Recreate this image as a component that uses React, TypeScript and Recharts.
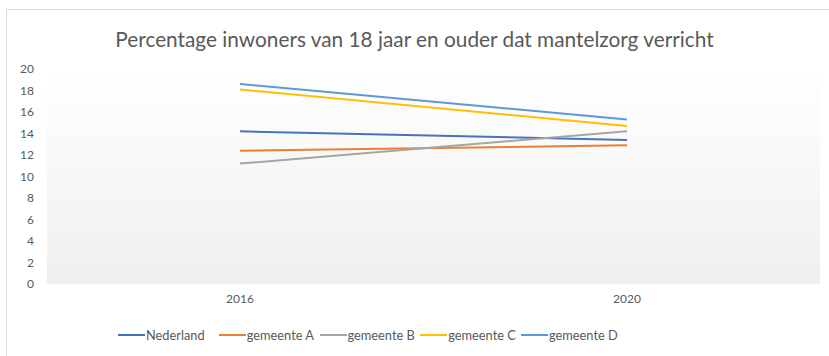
import React from 'react';
import { LineChart, Line, XAxis, YAxis, CartesianGrid, Legend } from 'recharts';

const years = ['2016', '2020'];
const nederland = [14.2, 13.4];
const gemeenteA = [12.4, 12.9];
const gemeenteB = [11.2, 14.2];
const gemeenteC = [18.1, 14.7];
const gemeenteD = [18.6, 15.3];
const yTicks = [0, 2, 4, 6, 8, 10, 12, 14, 16, 18, 20];

const seriesNames = ['Nederland', 'gemeente A', 'gemeente B', 'gemeente C', 'gemeente D'];
const seriesValues = [nederland, gemeenteA, gemeenteB, gemeenteC, gemeenteD];
const colors = ['#4472C4', '#ED7D31', '#A5A5A5', '#FFC000', '#5B9BD5'];

const data = years.map((y, i) => {
  const row: Record<string, string | number> = { year: y };
  seriesNames.forEach((n, k) => {
    row[n] = seriesValues[k][i];
  });
  return row;
});

const FONT = 'Lato, "Open Sans", sans-serif';

const LegendContent = (props: any) => {
  const { payload } = props;
  return (
    <div style={{ display: 'flex', alignItems: 'center', height: 16, fontFamily: FONT, fontSize: 12.8, color: '#595959' }}>
      {(payload || []).map((p: any, i: number) => (
        <div key={i} style={{ display: 'flex', alignItems: 'center', width: 100.75, whiteSpace: 'nowrap' }}>
          <svg width={27} height={6} style={{ marginRight: 1 }}>
            <line x1={0} y1={3} x2={27} y2={3} stroke={p.color} strokeWidth={2} />
          </svg>
          <span>{p.value}</span>
        </div>
      ))}
    </div>
  );
};

export default function App() {
  return (
    <div style={{ position: 'absolute', left: 0, top: 0, width: 829, height: 356, background: '#fff', overflow: 'hidden' }}>
      <div style={{ position: 'absolute', left: 6, top: 9, width: 840, height: 360, border: '1px solid #d9d9d9', boxSizing: 'border-box' }} />
      <div style={{ position: 'absolute', left: 0, top: 26, width: 829, textAlign: 'center', fontFamily: FONT, fontSize: 20.8, color: '#595959' }}>
        Percentage inwoners van 18 jaar en ouder dat mantelzorg verricht
      </div>
      <div style={{ position: 'absolute', left: 0, top: 0 }}>
        <LineChart width={829} height={356} data={data} margin={{ top: 69, right: 9, left: 7, bottom: 26 }}>
          <defs>
            <linearGradient id="bg" x1="0" y1="0" x2="0" y2="1">
              <stop offset="0%" stopColor="#ffffff" />
              <stop offset="100%" stopColor="#efefef" />
            </linearGradient>
          </defs>
          <CartesianGrid horizontal={false} vertical={false} fill="url(#bg)" />
          <XAxis
            dataKey="year"
            axisLine={false}
            tickLine={false}
            tickSize={8}
            tickMargin={2}
            height={30}
            padding={{ left: 193, right: 193 }}
            tick={{ fontFamily: FONT, fontSize: 12, fill: '#595959' }}
          />
          <YAxis
            domain={[0, 20]}
            ticks={yTicks}
            axisLine={false}
            tickLine={false}
            tickSize={11}
            tickMargin={2}
            width={40}
            interval={0}
            tick={{ fontFamily: FONT, fontSize: 12, fill: '#595959' }}
          />
          <Legend
            content={<LegendContent />}
            wrapperStyle={{ position: 'absolute', left: 118, top: 327, width: 'auto', height: 16 }}
          />
          {seriesNames.map((n, k) => (
            <Line key={n} dataKey={n} stroke={colors[k]} strokeWidth={2} dot={false} isAnimationActive={false} />
          ))}
        </LineChart>
      </div>
    </div>
  );
}
